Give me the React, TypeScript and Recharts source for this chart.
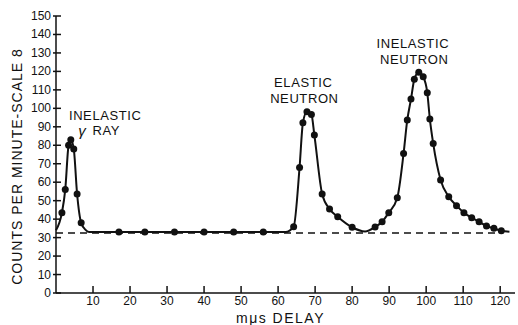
import {
  ComposedChart,
  Line,
  Scatter,
  XAxis,
  YAxis,
  ReferenceLine,
  ReferenceDot,
} from "recharts";

// measured points (delay in mμs, counts per minute)
const dotDelay = [
  1.6, 2.5, 3.4, 4.0, 4.8, 5.7, 6.8, 17, 24, 32, 40, 48, 56, 64.2, 65.8, 66.7,
  67.8, 69, 69.8, 71.9, 73.9, 76.1, 80, 86.2, 88.1, 89.9, 92.2, 93.9, 94.9,
  95.9, 96.8, 98, 99.2, 100.3, 101, 101.9, 103.9, 106.1, 108.2, 110.2, 112.3,
  114.3, 116.3, 118.3, 120.3,
];
const dotCounts = [
  43.5, 56, 80, 83, 78, 53.6, 38, 33, 33, 33, 33, 33, 33, 35.9, 68, 92.2, 98.2,
  96.7, 85.5, 53.6, 45.5, 41.3, 35.6, 35.7, 38.6, 43.5, 51.6, 75.6, 93.7, 105,
  115.7, 119.5, 117.1, 108.5, 94.2, 81, 61.2, 52.1, 47.3, 43.5, 40.8, 38.6,
  36.3, 35, 33.7,
];

// extra points where the drawn curve leaves the dots
const curveDelay = [0, 8, 9, 62, 83.5, 122.5];
const curveCounts = [34, 34.2, 33, 33, 33.3, 33.2];

const background = 32.5;
const xTicks = [10, 20, 30, 40, 50, 60, 70, 80, 90, 100, 110, 120];
const yTicks = [0, 10, 20, 30, 40, 50, 60, 70, 80, 90, 100, 110, 120, 130, 140, 150];

const labels = [
  { text: "INELASTIC", x: 13.3, y: 96.3 },
  { text: "RAY", x: 13.6, y: 88.1 },
  { text: "γ", x: 7.0, y: 87.8 },
  { text: "ELASTIC", x: 66.8, y: 113.9 },
  { text: "NEUTRON", x: 67.1, y: 105.5 },
  { text: "INELASTIC", x: 96.4, y: 135.3 },
  { text: "NEUTRON", x: 96.8, y: 126.6 },
];

const dots = dotDelay.map((d, i) => ({ delay: d, counts: dotCounts[i] }));
const curve = [
  ...dots,
  ...curveDelay.map((d, i) => ({ delay: d, counts: curveCounts[i] })),
].sort((a, b) => a.delay - b.delay);

const FONT = "'Liberation Sans', Arial, sans-serif";
const INK = "#111";

const BottomTick = ({ x, y, payload }: any) => (
  <g>
    <line x1={x} x2={x} y1={y} y2={y - 7} stroke={INK} strokeWidth={1.5} />
    <text x={x} y={y + 12} textAnchor="middle" fontSize={12} fill={INK} fontFamily={FONT}>
      {payload.value}
    </text>
  </g>
);

const TopTick = ({ x, y }: any) => (
  <line x1={x} x2={x} y1={y} y2={y + 7} stroke={INK} strokeWidth={1.5} />
);

const LeftTick = ({ x, y, payload }: any) => (
  <g>
    <line x1={x - 3} x2={x + 5} y1={y} y2={y} stroke={INK} strokeWidth={1.5} />
    <text x={x - 5} y={y + 4} textAnchor="end" fontSize={12} fill={INK} fontFamily={FONT}>
      {payload.value}
    </text>
  </g>
);

const RightTick = ({ x, y }: any) => (
  <line x1={x} x2={x - 6} y1={y} y2={y} stroke={INK} strokeWidth={1.5} />
);

const YTitle = ({ viewBox }: any) => {
  const cx = viewBox.x + 17;
  const cy = viewBox.y + viewBox.height / 2 + 12;
  return (
    <text
      transform={`translate(${cx},${cy}) rotate(-90)`}
      textAnchor="middle"
      dominantBaseline="central"
      fontSize={14}
      letterSpacing={1}
      fill={INK}
      fontFamily={FONT}
    >
      COUNTS PER MINUTE-SCALE 8
    </text>
  );
};

const XTitle = ({ viewBox }: any) => (
  <text
    x={viewBox.x + viewBox.width / 2 - 5}
    y={viewBox.y + 25}
    textAnchor="middle"
    dominantBaseline="central"
    fontSize={14}
    letterSpacing={1.5}
    fill={INK}
    fontFamily={FONT}
  >
    mμs DELAY
  </text>
);

export default function App() {
  return (
    <div style={{ position: "absolute", left: 0, top: 0, width: 518, height: 325, background: "#fff" }}>
      <ComposedChart
        width={518}
        height={325}
        margin={{ top: 16, right: 3, bottom: 0, left: 0 }}
      >
        <XAxis
          type="number"
          dataKey="delay"
          domain={[0, 124]}
          ticks={xTicks}
          tick={<BottomTick />}
          tickSize={0}
          tickMargin={0}
          height={32}
          stroke={INK}
          strokeWidth={1.5}
          label={<XTitle />}
        />
        <XAxis
          xAxisId="top"
          orientation="top"
          type="number"
          domain={[0, 124]}
          ticks={xTicks}
          tick={<TopTick />}
          tickSize={0}
          tickMargin={0}
          height={0}
          stroke={INK}
          strokeWidth={1.5}
        />
        <YAxis
          type="number"
          dataKey="counts"
          domain={[0, 150]}
          ticks={yTicks}
          tick={<LeftTick />}
          tickSize={0}
          tickMargin={0}
          width={56}
          interval={0}
          stroke={INK}
          strokeWidth={1.5}
          label={<YTitle />}
        />
        <YAxis
          yAxisId="right"
          orientation="right"
          type="number"
          domain={[0, 150]}
          ticks={yTicks}
          tick={<RightTick />}
          tickSize={0}
          tickMargin={0}
          width={0}
          interval={0}
          stroke={INK}
          strokeWidth={1.5}
        />
        <ReferenceLine
          segment={[
            { x: 0, y: background },
            { x: 120, y: background },
          ]}
          stroke={INK}
          strokeWidth={1.5}
          strokeDasharray="7 5"
        />
        <Line
          data={curve}
          dataKey="counts"
          type="monotone"
          stroke={INK}
          strokeWidth={2}
          dot={false}
          isAnimationActive={false}
        />
        <Scatter
          data={dots}
          dataKey="counts"
          fill={INK}
          shape={(p: any) => <circle cx={p.cx} cy={p.cy} r={3.5} fill={INK} />}
          isAnimationActive={false}
        />
        {labels.map((l, i) => (
          <ReferenceDot
            key={i}
            x={l.x}
            y={l.y}
            r={0}
            shape={(p: any) => (
              <text
                x={p.cx}
                y={p.cy}
                textAnchor="middle"
                dominantBaseline="central"
                fontSize={l.text === "γ" ? 15 : 13}
                letterSpacing={l.text === "γ" ? 0 : 0.6}
                fontStyle={l.text === "γ" ? "italic" : "normal"}
                fill={INK}
                fontFamily={FONT}
              >
                {l.text}
              </text>
            )}
          />
        ))}
      </ComposedChart>
    </div>
  );
}
